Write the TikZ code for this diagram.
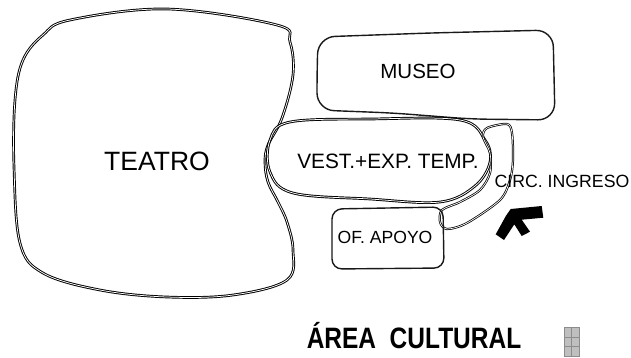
\documentclass[tikz,border=0pt]{standalone}
\usepackage{fontspec}
\setmainfont{Liberation Sans}
\begin{document}
\begin{tikzpicture}[x=1pt,y=-1pt,
  dbl/.style={draw=black,line width=0.95pt,double=white,double distance=0.75pt},
  sgl/.style={draw=black!90,line width=1.4pt},
  lbl/.style={inner sep=0pt,anchor=base,text=black}]
\useasboundingbox (0,0) rectangle (631,357);
% TEATRO
\draw[dbl] plot[smooth cycle,tension=0.6] coordinates {
 (23,60) (43,35) (70,20) (167,9) (277,25) (290,42) (293,75)
 (282,118) (268,145) (265,162) (268,182) (278,202) (287,222) (293,250)
 (287,280) (233,295) (167,297) (100,290) (43,273) (20,243) (14,167) (15,100)};
% MUSEO
\draw[sgl,rounded corners=17pt] (317,75) -- (318,37) -- (430,33) -- (553,30) -- (555,120)
 -- (470,119) -- (393,113) -- (317,110) -- cycle;
% VEST
\draw[dbl] plot[smooth cycle,tension=0.6] coordinates {
 (290,122) (370,119) (460,120) (485,140) (490,162) (475,186) (440,202)
 (370,199) (293,193) (270,172) (270,140)};
% CIRC corridor
\draw[dbl,line width=0.75pt,double distance=0.7pt] plot[smooth cycle,tension=0.5] coordinates {
 (487,128) (507,124) (512,133) (513,160) (510,180) (500,200) (467,223) (447,229)
 (440,222) (442,210) (460,202) (480,190) (490,173) (490,153) (483,137)};
% OF. APOYO
\draw[sgl,rounded corners=10pt] (332,209) -- (443,207) -- (444,268) -- (332,269) -- cycle;
% arrow
\fill[black] (510.7,209) -- (541.7,206) -- (543.3,217.7) -- (521.7,219.7) -- (530,231.7)
 -- (521.7,236) -- (514.3,224.3) -- (504,240) -- (495.7,234.3) -- (506,215.7) -- cycle;
% icon
\fill[black!25] (564,327) rectangle (579,356);
\draw[black!45,line width=0.4pt] (564,327) rectangle (579,356)
  (571.5,327) -- (571.5,356) (564,336.7) -- (579,336.7) (564,346.3) -- (579,346.3);
% labels
\node[lbl,font=\fontsize{26.5}{30}\selectfont] (teatro) at (157,170) {TEATRO};
\node[lbl,font=\fontsize{20.5}{24}\selectfont] (museo) at (418,78) {MUSEO};
\node[lbl,font=\fontsize{20.8}{24}\selectfont] (vest) at (388,168) {VEST.+EXP. TEMP.};
\node[lbl,font=\fontsize{17.7}{21}\selectfont] (circ) at (562,187) {CIRC. INGRESO};
\node[lbl,font=\fontsize{17.6}{21}\selectfont] (apoyo) at (385,243) {OF. APOYO};
\node[lbl,font=\bfseries\fontsize{29.5}{33}\selectfont] (area) at (414,348) {\scalebox{0.83}[1]{ÁREA\ \ CULTURAL}};
\end{tikzpicture}
\end{document}
